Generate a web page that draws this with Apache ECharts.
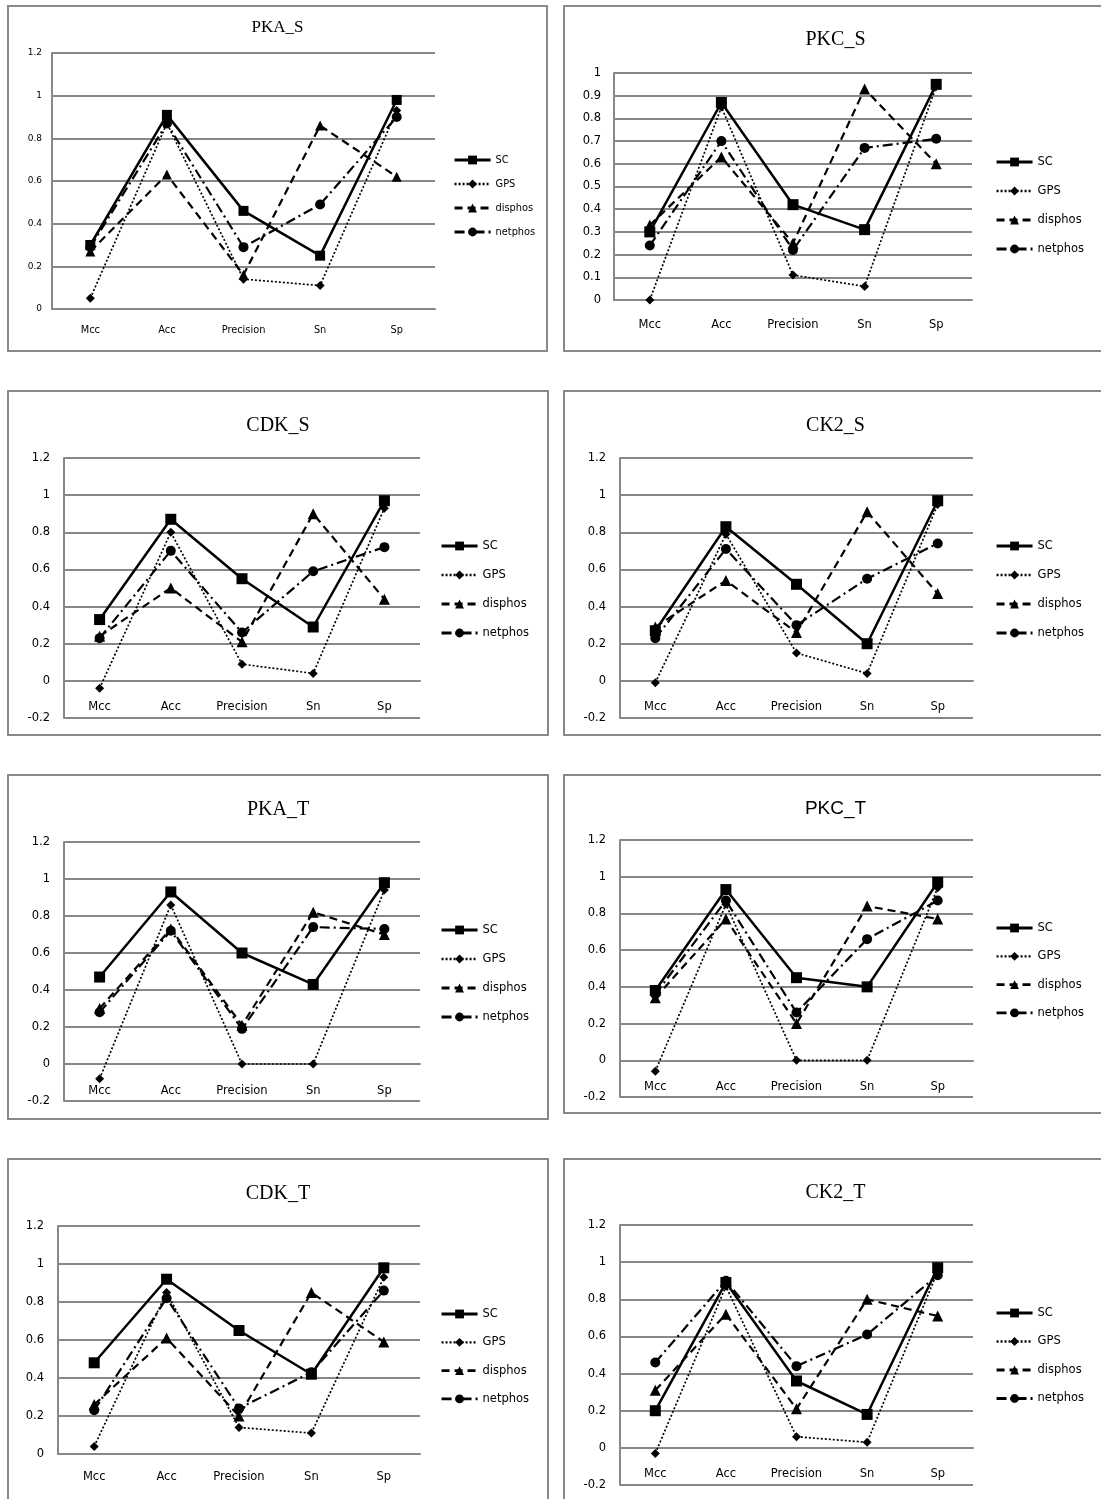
<!DOCTYPE html>
<html>
<head>
<meta charset="utf-8">
<script src="https://cdn.jsdelivr.net/npm/echarts@6/dist/echarts.min.js"></script>
<style>
html,body{margin:0;padding:0;background:#fff;width:1101px;height:1499px;overflow:hidden;}
.panel{position:absolute;box-sizing:border-box;border:2px solid #8a8a8a;background:#fff;}
.chart{position:absolute;left:0;top:0;}
</style>
</head>
<body>
<script>
// ---------- data ----------
const categories = ['Mcc', 'Acc', 'Precision', 'Sn', 'Sp'];
const seriesNames = ['SC', 'GPS', 'disphos', 'netphos'];
const panelTitles = ['PKA_S', 'PKC_S', 'CDK_S', 'CK2_S', 'PKA_T', 'PKC_T', 'CDK_T', 'CK2_T'];

// rows: SC, GPS, disphos, netphos ; columns follow categories
const pkaS = [
  [0.30, 0.91, 0.46, 0.25, 0.98],
  [0.05, 0.87, 0.14, 0.11, 0.93],
  [0.27, 0.63, 0.16, 0.86, 0.62],
  [0.29, 0.87, 0.29, 0.49, 0.90]
];
const pkcS = [
  [0.30, 0.87, 0.42, 0.31, 0.95],
  [0.00, 0.85, 0.11, 0.06, 0.94],
  [0.33, 0.63, 0.25, 0.93, 0.60],
  [0.24, 0.70, 0.22, 0.67, 0.71]
];
const cdkS = [
  [0.33, 0.87, 0.55, 0.29, 0.97],
  [-0.04, 0.80, 0.09, 0.04, 0.93],
  [0.24, 0.50, 0.21, 0.90, 0.44],
  [0.23, 0.70, 0.26, 0.59, 0.72]
];
const ck2S = [
  [0.27, 0.83, 0.52, 0.20, 0.97],
  [-0.01, 0.79, 0.15, 0.04, 0.95],
  [0.29, 0.54, 0.26, 0.91, 0.47],
  [0.23, 0.71, 0.30, 0.55, 0.74]
];
const pkaT = [
  [0.47, 0.93, 0.60, 0.43, 0.98],
  [-0.08, 0.86, 0.00, 0.00, 0.94],
  [0.30, 0.73, 0.21, 0.82, 0.70],
  [0.28, 0.72, 0.19, 0.74, 0.73]
];
const pkcT = [
  [0.38, 0.93, 0.45, 0.40, 0.97],
  [-0.06, 0.85, 0.00, 0.00, 0.94],
  [0.34, 0.77, 0.20, 0.84, 0.77],
  [0.36, 0.87, 0.26, 0.66, 0.87]
];
const cdkT = [
  [0.48, 0.92, 0.65, 0.42, 0.98],
  [0.04, 0.85, 0.14, 0.11, 0.93],
  [0.26, 0.61, 0.20, 0.85, 0.59],
  [0.23, 0.82, 0.24, 0.43, 0.86]
];
const ck2T = [
  [0.20, 0.89, 0.36, 0.18, 0.97],
  [-0.03, 0.87, 0.06, 0.03, 0.95],
  [0.31, 0.72, 0.21, 0.80, 0.71],
  [0.46, 0.90, 0.44, 0.61, 0.93]
];
const panelData = [pkaS, pkcS, cdkS, ck2S, pkaT, pkcT, cdkT, ck2T];

// y-axis ranges (min, max, step)
const yMins = [0, 0, -0.2, -0.2, -0.2, -0.2, 0, -0.2];
const yMaxs = [1.2, 1, 1.2, 1.2, 1.2, 1.2, 1.2, 1.2];
const ySteps = [0.2, 0.1, 0.2, 0.2, 0.2, 0.2, 0.2, 0.2];

// ---------- layout (not data) ----------
const layouts = [
  {l:7,   t:5,    w:541, h:347, gl:43, gt:48, gw:383, gh:256, tt:9,  tfs:17, tfont:'Liberation Serif', lg:{l:439,t:143,gap:14}, fs:9.8, yfs:9, lfs:9.8, xm:16, ym:10, sym:10},
  {l:563, t:5,    w:545, h:347, gl:49, gt:68, gw:358, gh:227, tt:20, tfs:20, tfont:'Liberation Serif', lg:{l:425,t:144,gap:17}, fs:11.5, yfs:11.5, lfs:11.5, xm:19, ym:13, sym:11},
  {l:7,   t:390,  w:542, h:346, gl:55, gt:68, gw:356, gh:260, tt:21, tfs:20, tfont:'Liberation Serif', lg:{l:426,t:143,gap:17}, fs:11.5, yfs:11.5, lfs:11.5, xm:20, ym:14, sym:11},
  {l:563, t:390,  w:545, h:346, gl:55, gt:68, gw:353, gh:260, tt:21, tfs:20, tfont:'Liberation Serif', lg:{l:425,t:143,gap:17}, fs:11.5, yfs:11.5, lfs:11.5, xm:20, ym:14, sym:11},
  {l:7,   t:774,  w:542, h:346, gl:55, gt:68, gw:356, gh:259, tt:21, tfs:20, tfont:'Liberation Serif', lg:{l:426,t:143,gap:17}, fs:11.5, yfs:11.5, lfs:11.5, xm:21, ym:14, sym:11},
  {l:563, t:774,  w:545, h:340, gl:55, gt:66, gw:353, gh:257, tt:20, tfs:19, tfont:'Liberation Sans', lg:{l:425,t:141,gap:16.3}, fs:11.5, yfs:11.5, lfs:11.5, xm:21, ym:14, sym:11},
  {l:7,   t:1158, w:542, h:350, gl:49, gt:68, gw:362, gh:228, tt:21, tfs:20, tfont:'Liberation Serif', lg:{l:426,t:143,gap:16.3}, fs:11.5, yfs:11.5, lfs:11.5, xm:17, ym:14, sym:11},
  {l:563, t:1158, w:545, h:350, gl:55, gt:67, gw:353, gh:260, tt:20, tfs:20, tfont:'Liberation Serif', lg:{l:425,t:142,gap:16.5}, fs:11.5, yfs:11.5, lfs:11.5, xm:20, ym:14, sym:11}
];

const seriesStyles = [
  {symbol:'rect',     type:'solid',         width:2.5, scale:1.0},
  {symbol:'diamond',  type:[2, 2],          width:1.7, scale:0.85},
  {symbol:'triangle', type:[8, 5],          width:2.2, scale:1.0},
  {symbol:'circle',   type:[10, 4, 2, 4],   width:2.2, scale:0.95}
];

const gridColor = '#878787';
const labelFont = 'DejaVu Sans';

panelData.forEach((rows, i) => {
  const L = layouts[i];
  const panel = document.createElement('div');
  panel.className = 'panel';
  panel.style.left = L.l + 'px';
  panel.style.top = L.t + 'px';
  panel.style.width = L.w + 'px';
  panel.style.height = L.h + 'px';
  document.body.appendChild(panel);
  const el = document.createElement('div');
  el.className = 'chart';
  el.style.width = (L.w - 4) + 'px';
  el.style.height = (L.h - 4) + 'px';
  panel.appendChild(el);
  const chart = echarts.init(el, null, {renderer: 'canvas'});
  // category axis sits on the zero line of the value axis (Excel "axis crosses at 0")
  const zeroShift = -L.gh * (0 - yMins[i]) / (yMaxs[i] - yMins[i]);
  chart.setOption({
    animation: false,
    title: {
      text: panelTitles[i],
      left: 'center',
      top: L.tt - 2,
      textStyle: {fontFamily: L.tfont, fontWeight: 'normal', fontSize: L.tfs, color: '#000'}
    },
    legend: {
      orient: 'vertical',
      left: L.lg.l,
      top: L.lg.t,
      itemGap: L.lg.gap,
      itemWidth: 36,
      itemHeight: 11,
      selectedMode: false,
      data: seriesNames.map((n, k) => ({
        name: n,
        lineStyle: {width: seriesStyles[k].width + 0.6, type: seriesStyles[k].type, color: '#000'}
      })),
      textStyle: {fontFamily: labelFont, fontSize: L.lfs, color: '#000'}
    },
    grid: {left: L.gl, top: L.gt - 2, width: L.gw, height: L.gh, containLabel: false, outerBoundsMode: 'none'},
    xAxis: {
      type: 'category',
      data: categories,
      boundaryGap: true,
      position: 'bottom',
      offset: zeroShift,
      axisLine: {show: true, onZero: false, lineStyle: {color: gridColor, width: 2}},
      axisTick: {show: false},
      axisLabel: {margin: L.xm, fontFamily: labelFont, fontSize: L.fs, color: '#000'},
      splitLine: {show: false}
    },
    yAxis: {
      type: 'value',
      min: yMins[i],
      max: yMaxs[i],
      interval: ySteps[i],
      axisLine: {show: true, lineStyle: {color: gridColor, width: 2}},
      axisTick: {show: false},
      axisLabel: {margin: L.ym, fontFamily: labelFont, fontSize: L.yfs, color: '#000',
        formatter: (v) => String(Math.round(v * 10) / 10)},
      splitLine: {show: true, lineStyle: {color: gridColor, width: 2}}
    },
    series: rows.map((vals, k) => ({
      name: seriesNames[k],
      type: 'line',
      data: vals,
      symbol: seriesStyles[k].symbol,
      symbolSize: Math.round(L.sym * seriesStyles[k].scale),
      showSymbol: true,
      lineStyle: {color: '#000', width: seriesStyles[k].width, type: seriesStyles[k].type},
      itemStyle: {color: '#000', borderWidth: 0},
      z: 2 + k
    }))
  });
});
</script>
</body>
</html>
